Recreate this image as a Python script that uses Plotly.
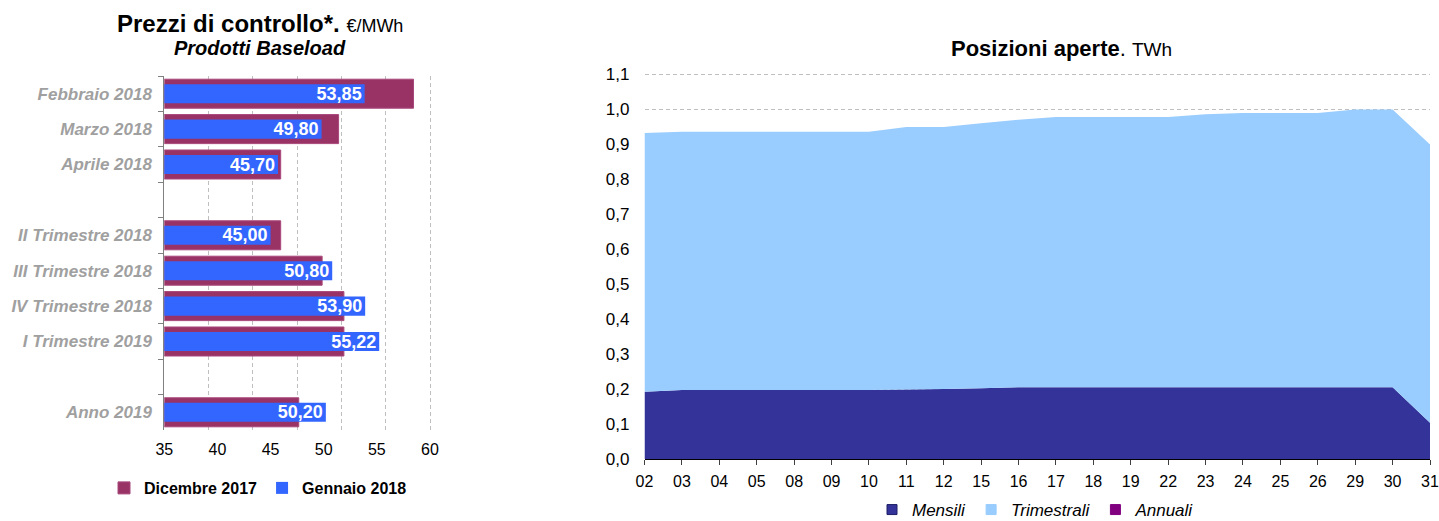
import plotly.graph_objects as go

# ---------------- Left chart data ----------------
categories = ["Febbraio 2018", "Marzo 2018", "Aprile 2018", " ",
              "II Trimestre 2018", "III Trimestre 2018", "IV Trimestre 2018",
              "I Trimestre 2019", "  ", "Anno 2019"]
products = ["Febbraio 2018", "Marzo 2018", "Aprile 2018",
            "II Trimestre 2018", "III Trimestre 2018", "IV Trimestre 2018",
            "I Trimestre 2019", "Anno 2019"]
dicembre_2017 = [58.45, 51.40, 45.95, 45.95, 49.85, 51.90, 51.90, 47.65]
gennaio_2018 = [53.85, 49.80, 45.70, 45.00, 50.80, 53.90, 55.22, 50.20]
x_ticks_left = [35, 40, 45, 50, 55, 60]

# ---------------- Right chart data ----------------
days = ["02", "03", "04", "05", "08", "09", "10", "11", "12", "15", "16",
        "17", "18", "19", "22", "23", "24", "25", "26", "29", "30", "31"]
mensili = [0.192, 0.197, 0.197, 0.197, 0.197, 0.197, 0.197, 0.199, 0.200, 0.202, 0.205,
           0.205, 0.205, 0.205, 0.205, 0.205, 0.205, 0.205, 0.205, 0.205, 0.205, 0.104]
trimestrali = [0.740, 0.739, 0.739, 0.739, 0.739, 0.739, 0.739, 0.750, 0.749, 0.758, 0.765,
               0.773, 0.773, 0.773, 0.773, 0.781, 0.784, 0.784, 0.784, 0.794, 0.794, 0.795]
annuali = [0.0] * len(days)

W, H = 1439, 521
FONT = "Liberation Sans, Arial, sans-serif"
DASH = "4px,3px"

dic_map = dict(zip(products, dicembre_2017))
gen_map = dict(zip(products, gennaio_2018))
dic_x = [dic_map.get(c) for c in categories]
gen_x = [gen_map.get(c) for c in categories]

fig = go.Figure()

fig.add_trace(go.Bar(
    y=categories, x=dic_x, orientation="h", name="Dicembre 2017",
    marker=dict(color="#993366", line=dict(color="#A8477A", width=1)),
    width=0.82, xaxis="x", yaxis="y", legend="legend", hoverinfo="x+y"))
fig.add_trace(go.Bar(
    y=categories, x=gen_x, orientation="h", name="Gennaio 2018",
    marker=dict(color="#3366FF", line=dict(width=0)),
    width=0.54, xaxis="x", yaxis="y", legend="legend",
    texttemplate="%{x:.2f}", textposition="inside", insidetextanchor="end",
    textangle=0, constraintext="none",
    textfont=dict(color="white", size=18, family=FONT, weight="bold"),
    hoverinfo="x+y"))

area_series = [("Mensili", mensili, "#333399", "#1F1F66"),
               ("Trimestrali", trimestrali, "#99CCFF", "#99CCFF"),
               ("Annuali", annuali, "#800080", "#800080")]
for name, vals, col, edge in area_series:
    fig.add_trace(go.Scatter(
        x=days, y=vals, name=name, stackgroup="one", mode="none",
        fillcolor=col, xaxis="x2", yaxis="y2", showlegend=False))
# legend entries (square keys) for the area series
for name, vals, col, edge in area_series:
    fig.add_trace(go.Scatter(
        x=[None], y=[None], name=name, mode="markers",
        marker=dict(symbol="square", size=10, color=col, line=dict(color=edge, width=1)),
        xaxis="x2", yaxis="y2", legend="legend2", hoverinfo="skip"))

grid_left = [round(35 + k * 25 / 6, 4) for k in range(1, 7)]

# left plot: 35 at x=164.3px, 60 at x=430px; range extended a little so the 60 grid shows
px_per_unit_l = (430 - 164.3) / 25
x_max_l = 60.2
right_edge_l = 164.3 + (x_max_l - 35) * px_per_unit_l
# right plot: 0 at y=459px, 1.1 at y=74.3px; range extended a little so the 1.1 grid shows
px_per_unit_r = (459 - 74.3) / 1.1
y_max_r = 1.106
top_edge_r = 459 - y_max_r * px_per_unit_r

fig.update_layout(
    width=W, height=H,
    margin=dict(l=0, r=0, t=0, b=0, autoexpand=False),
    paper_bgcolor="white", plot_bgcolor="white",
    separators=",.",
    barmode="overlay",
    font=dict(family=FONT, color="black"),
    xaxis=dict(
        domain=[164.3 / W, right_edge_l / W], anchor="y", automargin=False,
        range=[35, x_max_l], tickmode="array", tickvals=x_ticks_left,
        showgrid=False, zeroline=False, showline=False, ticks="",
        tickfont=dict(size=16, color="black"), ticklabelstandoff=8,
        minor=dict(tickmode="array", tickvals=grid_left, showgrid=True,
                   gridcolor="#BFBFBF", griddash=DASH, gridwidth=1, ticks=""),
    ),
    yaxis=dict(
        domain=[1 - 430 / H, 1 - 76 / H], anchor="x", automargin=False,
        type="category", categoryorder="array", categoryarray=categories,
        autorange="reversed", tickson="boundaries", ticks="outside",
        ticklen=5, tickcolor="#808080", showline=True, linecolor="#808080",
        linewidth=1, showgrid=False, zeroline=False,
        tickfont=dict(size=17, color="#A0A0A0", weight="bold", style="italic"),
        ticklabelstandoff=8,
    ),
    xaxis2=dict(
        domain=[644.5 / W, 1430 / W], anchor="y2", automargin=False,
        type="category", range=[0, len(days) - 1],
        ticks="outside", ticklen=5, tickcolor="#404040",
        showline=True, linecolor="black", linewidth=1, showgrid=False,
        tickfont=dict(size=16, color="black"), ticklabelstandoff=3,
    ),
    yaxis2=dict(
        domain=[1 - 459 / H, 1 - top_edge_r / H], anchor="x2", automargin=False,
        range=[0, y_max_r], dtick=0.1, tick0=0, tickformat=".1f",
        showgrid=True, gridcolor="#BFBFBF", griddash=DASH, gridwidth=1,
        zeroline=False, showline=False, ticks="",
        tickfont=dict(size=17, color="black"), ticklabelstandoff=14,
    ),
    legend=dict(
        orientation="h", x=258 / W, y=1 - 488 / H, xanchor="center", yanchor="middle",
        font=dict(size=16, color="black", weight="bold"), traceorder="normal",
        itemwidth=30, bgcolor="rgba(0,0,0,0)",
    ),
    legend2=dict(
        orientation="h", x=1036 / W, y=1 - 510 / H, xanchor="center", yanchor="middle",
        font=dict(size=17, color="black", style="italic"), traceorder="normal",
        itemwidth=30, bgcolor="rgba(0,0,0,0)",
    ),
    annotations=[
        dict(text="<b>Prezzi di controllo*.</b> <span style='font-size:18px'>€/MWh</span>",
             x=260 / W, y=1 - 24 / H, xref="paper", yref="paper",
             xanchor="center", yanchor="middle", showarrow=False,
             font=dict(size=24, color="black")),
        dict(text="<b><i>Prodotti Baseload</i></b>",
             x=260 / W, y=1 - 48 / H, xref="paper", yref="paper",
             xanchor="center", yanchor="middle", showarrow=False,
             font=dict(size=20, color="black")),
        dict(text="<b>Posizioni aperte</b>. <span style='font-size:19px'>TWh</span>",
             x=1061 / W, y=1 - 48 / H, xref="paper", yref="paper",
             xanchor="center", yanchor="middle", showarrow=False,
             font=dict(size=22, color="black")),
    ],
    showlegend=True,
)

fig.write_html("out.html")
